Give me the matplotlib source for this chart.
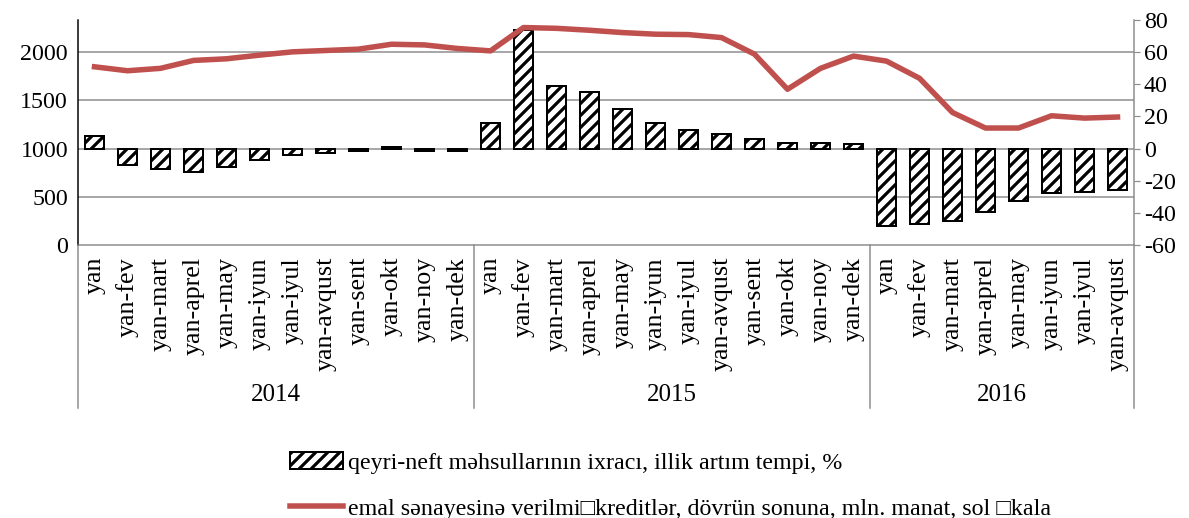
import matplotlib
matplotlib.use("Agg")
import matplotlib.pyplot as plt
from matplotlib.lines import Line2D
from matplotlib.patches import Patch
import matplotlib.transforms as mtransforms

plt.rcParams['font.family'] = ['Liberation Serif', 'DejaVu Serif']
plt.rcParams['axes.unicode_minus'] = False
plt.rcParams['hatch.linewidth'] = 3.2
plt.rcParams['hatch.color'] = 'black'

# ---------------- data ----------------
years = ['2014', '2015', '2016']
months_full = ['yan', 'yan-fev', 'yan-mart', 'yan-aprel', 'yan-may', 'yan-iyun',
               'yan-iyul', 'yan-avqust', 'yan-sent', 'yan-okt', 'yan-noy', 'yan-dek']
months_per_year = [12, 12, 8]
categories = months_full + months_full + months_full[:8]

export_growth = [8.1, -10.3, -12.6, -14.5, -11.5, -7.1, -3.7, -3.0, -1.5, 1.0, -1.5, -1.8,
                 16.2, 73.8, 39.2, 35.2, 24.4, 16.2, 11.5, 8.8, 6.0, 3.7, 3.7, 3.0,
                 -48.1, -47.1, -45.0, -39.7, -32.9, -27.6, -27.0, -25.7]
credits = [1848, 1807, 1832, 1914, 1931, 1969, 2003, 2017, 2031, 2082, 2075, 2038,
           2013, 2255, 2247, 2227, 2203, 2186, 2182, 2151, 1979, 1615, 1832, 1959,
           1907, 1729, 1374, 1213, 1213, 1340, 1316, 1327]

left_ticks = [0, 500, 1000, 1500, 2000]
right_ticks = [-60, -40, -20, 0, 20, 40, 60, 80]

bar_label = 'qeyri-neft məhsullarının ixracı, illik artım tempi, %'
line_label = 'emal sənayesinə verilmi\u25a1kreditlər, dövrün sonuna, mln. manat, sol \u25a1kala'

# ---------------- figure ----------------
W, H = 1189, 518
DPI = 72
fig = plt.figure(figsize=(W / DPI, H / DPI), dpi=DPI)
ax = fig.add_axes([78 / W, 1 - 245 / H, (1134 - 78) / W, (245 - 20) / H])
ax2 = ax.twinx()

FS = 24
grid_col = '#8c8c8c'
red = '#C0504D'

x = list(range(len(categories)))

# bars (right scale)
ax.bar(x, export_growth, width=0.6, facecolor='white', edgecolor='black',
       linewidth=2, hatch='//', zorder=3)
ax.set_ylim(-60, 80)
ax.set_xlim(-0.5, len(categories) - 0.5)
ax.yaxis.tick_right()
ax.set_yticks(right_ticks)
ax.tick_params(axis='y', direction='out', length=6, width=1.2, color=grid_col,
               labelsize=FS, pad=4)

# line (left scale)
ax2.plot(x, credits, color=red, linewidth=5.5, solid_joinstyle='round', zorder=5)
ax2.set_ylim(0, 1000 + 80 * 1000 / 60)
ax2.yaxis.tick_left()
ax2.set_yticks(left_ticks)
ax2.tick_params(axis='y', length=0, labelsize=FS, pad=10)

# gridlines at left-scale ticks, drawn below bars
trans_grid = mtransforms.blended_transform_factory(ax.transAxes, ax2.transData)
for v in left_ticks[1:]:
    ax.add_line(Line2D([0, 1], [v, v], transform=trans_grid, color=grid_col,
                       linewidth=1.5, zorder=1))

# spines
for s in ['top', 'left', 'right', 'bottom']:
    ax.spines[s].set_visible(False)
    ax2.spines[s].set_visible(False)
ax2.spines['left'].set_visible(True)
ax2.spines['left'].set_color('black')
ax2.spines['left'].set_linewidth(1.5)
ax.spines['right'].set_visible(True)
ax.spines['right'].set_color(grid_col)
ax.spines['right'].set_linewidth(1.5)
ax.spines['bottom'].set_visible(True)
ax.spines['bottom'].set_color(grid_col)
ax.spines['bottom'].set_linewidth(1.5)

# x categories
ax.set_xticks(x)
ax.set_xticklabels(categories, rotation=90, fontsize=26)
ax.tick_params(axis='x', length=0, pad=12)

# group separators and year labels
sep_trans = mtransforms.blended_transform_factory(ax.transData, fig.transFigure)
y_bot = 1 - 408 / H
y_top = 1 - 245 / H
start = 0
bounds = [-0.5]
for n in months_per_year:
    start += n
    bounds.append(start - 0.5)
for b in bounds:
    fig.add_artist(Line2D([b, b], [y_bot, y_top], transform=sep_trans,
                          color=grid_col, linewidth=1.5))
for i, yr in enumerate(years):
    cx = (bounds[i] + bounds[i + 1]) / 2
    fig.text(cx, 1 - 395 / H, yr, transform=sep_trans, ha='center', va='center',
             fontsize=25)

# legend
handles = [Patch(facecolor='white', edgecolor='black', hatch='//', linewidth=2),
           Line2D([0], [0], color=red, linewidth=5.5)]
fig.legend(handles, [bar_label, line_label], loc='center left',
           bbox_to_anchor=(290 / W, 1 - 486 / H), frameon=False, fontsize=FS,
           handlelength=2.2, handletextpad=0.2, borderpad=0, borderaxespad=0,
           labelspacing=1.0)

fig.savefig('out.png', dpi=DPI)
